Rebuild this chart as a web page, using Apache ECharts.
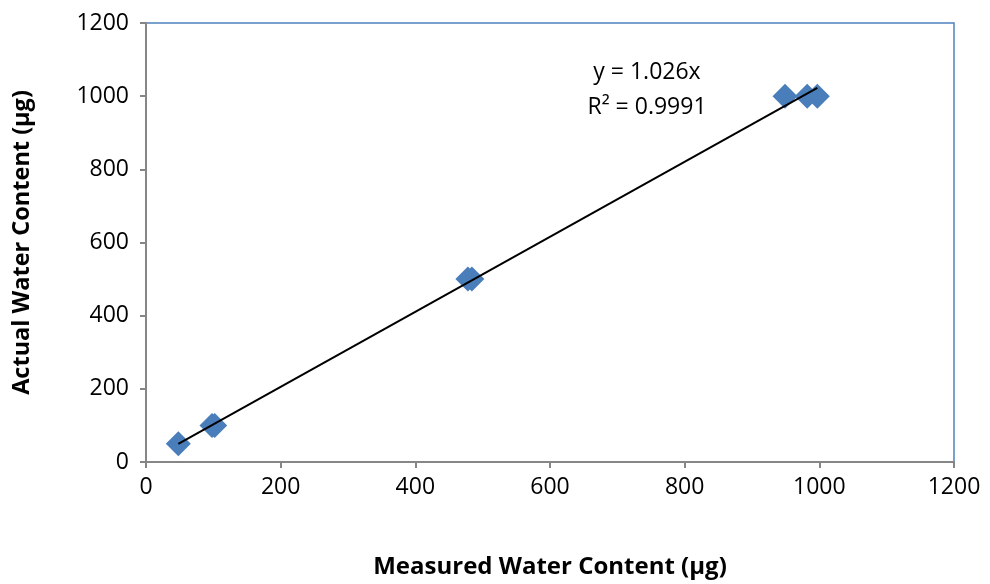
<!DOCTYPE html>
<html>
<head>
<meta charset="utf-8">
<script src="https://cdn.jsdelivr.net/npm/echarts@6/dist/echarts.min.js"></script>
<style>
  html, body { margin: 0; padding: 0; background: #fff; }
  #chart { width: 990px; height: 584px; }
</style>
</head>
<body>
<div id="chart"></div>
<script>
// Measured vs. actual water content (µg)
const measured = [48, 98, 102, 478, 484, 949, 982, 997];
const actual   = [50, 100, 100, 500, 500, 1000, 1000, 1000];
const slope = 1.026;
const rSquared = '0.9991';
const xTicks = [0, 200, 400, 600, 800, 1000, 1200];
const yTicks = [0, 200, 400, 600, 800, 1000, 1200];

const points = measured.map((m, i) => [m, actual[i]]);
const xMin = Math.min(...measured);
const xMax = Math.max(...measured);
const trend = [[xMin, slope * xMin], [xMax, slope * xMax]];

const FONT = '"Open Sans", Lato, "Liberation Sans", sans-serif';
const axisGray = '#868686';

const chart = echarts.init(document.getElementById('chart'), null, { renderer: 'canvas' });
chart.setOption({
  animation: false,
  backgroundColor: '#ffffff',
  grid: {
    left: 146, right: 36, top: 23, bottom: 120,
    show: true, borderColor: '#4f81bd', borderWidth: 1.5, backgroundColor: 'transparent'
  },
  xAxis: {
    type: 'value',
    min: xTicks[0], max: xTicks[xTicks.length - 1], interval: 200,
    name: 'Measured Water Content (µg)',
    nameLocation: 'middle', nameGap: 93,
    nameTextStyle: { fontFamily: FONT, fontSize: 24, fontWeight: 'bold', color: '#000' },
    axisLine: { show: true, lineStyle: { color: axisGray, width: 2 } },
    axisTick: { show: true, inside: false, length: 6, lineStyle: { color: axisGray, width: 2 } },
    axisLabel: { fontFamily: FONT, fontSize: 23, color: '#000', margin: 14, formatter: v => String(v) },
    splitLine: { show: false }
  },
  yAxis: {
    type: 'value',
    min: yTicks[0], max: yTicks[yTicks.length - 1], interval: 200,
    name: 'Actual Water Content (µg)',
    nameLocation: 'middle', nameGap: 112,
    nameTextStyle: { fontFamily: FONT, fontSize: 23.5, fontWeight: 'bold', color: '#000' },
    axisLine: { show: true, lineStyle: { color: axisGray, width: 2 } },
    axisTick: { show: true, inside: false, length: 6, lineStyle: { color: axisGray, width: 2 } },
    axisLabel: { fontFamily: FONT, fontSize: 23, color: '#000', margin: 17, formatter: v => String(v) },
    splitLine: { show: false }
  },
  series: [
    {
      type: 'scatter',
      data: points,
      symbol: 'diamond',
      symbolSize: [25, 25],
      itemStyle: { color: '#4a7ebb', opacity: 1 },
      z: 2
    },
    {
      type: 'line',
      data: trend,
      showSymbol: false,
      lineStyle: { color: '#000', width: 2 },
      z: 3
    }
  ],
  graphic: [
    {
      type: 'text',
      x: 647, y: 72,
      style: {
        text: 'y = ' + slope.toFixed(3) + 'x',
        fontFamily: FONT, fontSize: 23, fill: '#000',
        textAlign: 'center', textVerticalAlign: 'middle'
      }
    },
    {
      type: 'text',
      x: 647, y: 107,
      style: {
        text: 'R² = ' + rSquared,
        fontFamily: FONT, fontSize: 23, fill: '#000',
        textAlign: 'center', textVerticalAlign: 'middle'
      }
    }
  ]
});
</script>
</body>
</html>
